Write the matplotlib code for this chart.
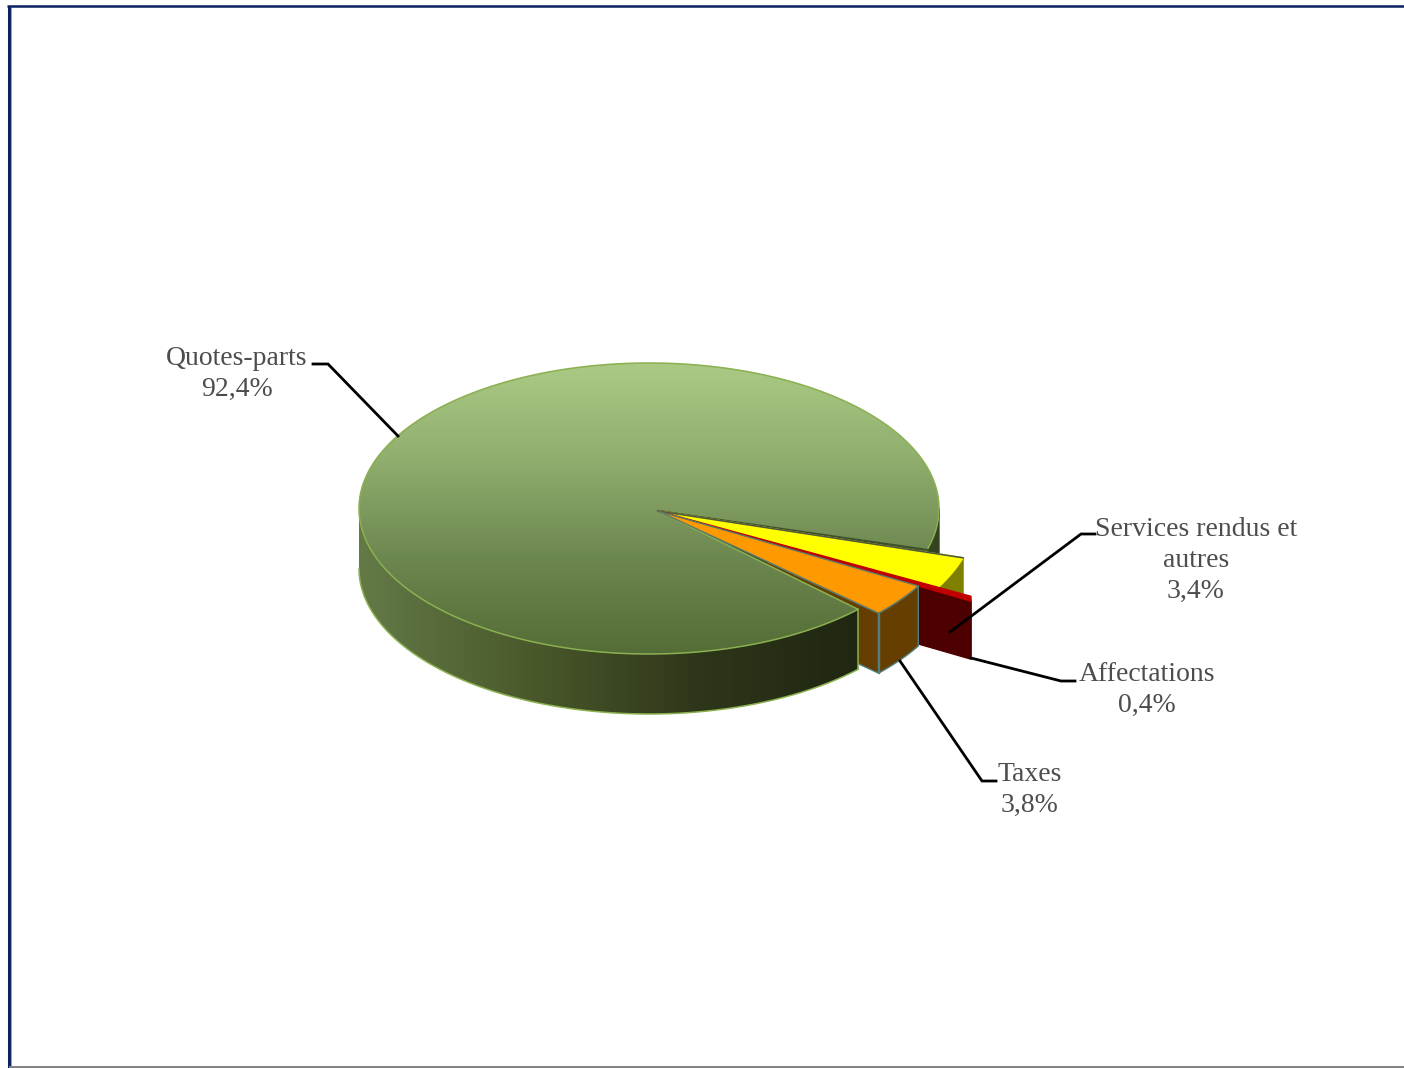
import numpy as np
import matplotlib
matplotlib.use("Agg")
import matplotlib.pyplot as plt
from matplotlib.colors import LinearSegmentedColormap
from matplotlib.patches import Polygon

labels = ["Quotes-parts", "Services rendus et\nautres", "Affectations", "Taxes"]
values = [92.4, 3.4, 0.4, 3.8]

plt.rcParams['font.family'] = ['Liberation Serif', 'DejaVu Serif']

CX, CY, RX, RY = 649, 508.5, 290, 145.5
AX0, AY0 = 658, 511
DEPTH = 60
START = 16.5
PULL = [1.0, 1.10, 1.228, 1.035]
EDGE_GREEN = '#8ab04f'
EDGE_TEAL = '#4f7f80'


def arc(t0, t1, r=1.0, cx=CX, cy=CY, dy=0, n=200):
    t = np.radians(np.linspace(t0, t1, n))
    return np.column_stack((cx + r * RX * np.cos(t), cy + dy + r * RY * np.sin(t)))


def poly(ax, pts, color, edge=None, lw=1.0, z=2):
    p = Polygon(pts, closed=True, facecolor=color, edgecolor=edge or color, linewidth=lw, zorder=z, joinstyle='round')
    ax.add_patch(p)
    return p


def gradient(ax, patch, colors, extent, vertical=True, z=2):
    cmap = LinearSegmentedColormap.from_list("g", colors)
    grad = np.linspace(0, 1, 256)
    grad = grad.reshape(-1, 1) if vertical else grad.reshape(1, -1)
    im = ax.imshow(grad, cmap=cmap, extent=extent, origin='upper', aspect='auto', zorder=z, interpolation='bilinear')
    im.set_clip_path(patch)


fig = plt.figure(figsize=(14.04, 10.68), dpi=100, facecolor='white')
ax = fig.add_axes([0, 0, 1, 1])

sweeps = [v / 100 * 360 for v in values]
green_t0 = START + sum(sweeps[1:])
green_t1 = green_t0 + sweeps[0]

# small slices fan out clockwise from the gap, a bit tighter on screen
SQUEEZE = 0.94
edges = [17.0]
for s in sweeps[1:]:
    edges.append(edges[-1] + s * SQUEEZE)
apex = np.array([[AX0, AY0]])

# orange side wall goes under the big slice
o0, o1 = edges[2], edges[3]
tip = arc(o1, o1, PULL[3], AX0, AY0, n=1)
poly(ax, np.vstack((apex, tip, tip + [0, DEPTH], apex + [0, DEPTH])), '#663f00', EDGE_TEAL, 1.0, z=2)

# big slice: side
front = arc(green_t0, 180)
wall = poly(ax, np.vstack((front, arc(180, green_t0, dy=DEPTH))), 'none', 'none', z=3)
gradient(ax, wall, ['#637a47', '#4b5a2c', '#2f371a', '#1f2612'], (359, 860, 730, 500), vertical=False, z=3)
ax.plot(*arc(green_t0, 180, dy=DEPTH).T, color=EDGE_GREEN, lw=1.1, zorder=4)
ax.plot(*np.vstack((arc(green_t0, green_t0, n=1), arc(green_t0, green_t0, dy=DEPTH, n=1))).T, color=EDGE_GREEN, lw=1.1, zorder=4)

# bit of wall and cut face seen through the gap on the right
poly(ax, np.vstack((arc(0, START, n=30), apex + [0, DEPTH], apex)), '#3a4a28', z=3)
poly(ax, np.vstack((arc(0, START, n=30), arc(START, 0, dy=DEPTH, n=30))), '#33421f', z=3)

# big slice: top
top_pts = np.vstack((apex, arc(green_t0, green_t1, n=600)))
top = poly(ax, top_pts, 'none', 'none', z=5)
gradient(ax, top, ['#abcb85', '#90ae6e', '#6d8750', '#546c35'], (355, 945, 656, 360), z=5)
ax.add_patch(Polygon(top_pts, closed=True, fill=False, edgecolor=EDGE_GREEN, linewidth=1.1, zorder=6))
ax.plot(*np.vstack((apex, arc(START, START, n=1))).T, color='#3f4f2c', lw=1.5, zorder=6)

# services: top and outer wall
y0, y1 = edges[0], edges[1]
poly(ax, np.vstack((arc(y0, y1, PULL[1], AX0, AY0, n=30), arc(y1, y0, PULL[1], AX0, AY0, dy=DEPTH, n=30))), '#808000', z=7)
poly(ax, np.vstack((apex, arc(y0, y1, PULL[1], AX0, AY0, n=30))), '#ffff00', z=8)
ax.plot(*np.vstack((apex, arc(y0, y0, PULL[1], AX0, AY0, n=1))).T, color='#4f5a3c', lw=1.2, zorder=8)

# affectations: long thin sliver, only the part past the taxes slice shows its side
r0, r1 = edges[1], edges[2]
r_top = arc(r0, r0, PULL[2], AX0, AY0, n=1)
r_tip = arc(r1, r1, PULL[2] * 1.014, AX0, AY0, n=1)
r_in = arc(r1, r1, 1.03, AX0, AY0, n=1)
poly(ax, np.vstack((r_in, r_tip, r_tip + [0, DEPTH - 2], r_in + [0, DEPTH - 2])), '#4d0000', z=9)
poly(ax, np.vstack((apex, r_top, r_tip)), '#c00000', z=10)

# taxes: outer wall and top
poly(ax, np.vstack((arc(o0, o1, PULL[3], AX0, AY0, n=30), arc(o1, o0, PULL[3], AX0, AY0, dy=DEPTH, n=30))), '#663f00', EDGE_TEAL, 1.0, z=11)
ax.plot(*np.vstack((tip, tip + [0, DEPTH])).T, color=EDGE_TEAL, lw=1.0, zorder=12)
poly(ax, np.vstack((apex, arc(o0, o1, PULL[3], AX0, AY0, n=30))), '#ff9900', '#5c7a6a', 1.0, z=12)

# leader lines
leaders = [
    ([313, 328, 398], [364, 364, 436]),
    ([1095, 1081, 950], [534, 534, 632]),
    ([1075, 1061, 971], [681, 681, 658]),
    ([996, 982, 900], [781, 781, 661]),
]
for xs, ys in leaders:
    ax.plot(xs, ys, color='black', lw=2.0, zorder=13, solid_joinstyle='miter')

# labels
label_pos = [(237, 374), (1196, 560.5), (1147, 690), (1030, 790)]
for name, v, (x, y) in zip(labels, values, label_pos):
    txt = name + "\n" + f"{v:.1f}".replace(".", ",") + "%"
    ax.text(x, y, txt, ha='center', va='center', fontsize=20, color='#4d4d4d', linespacing=1.3, zorder=14)

# window frame
ax.plot([8.5, 8.5], [1068, 6], color='#0a2060', lw=2.2, zorder=15, solid_capstyle='butt')
ax.plot([7, 1404], [6, 6], color='#0a2060', lw=1.8, zorder=15, solid_capstyle='butt')
ax.plot([10.5, 10.5], [1068, 8], color='#a0a0a0', lw=0.8, zorder=15)
ax.plot([10, 1404], [1067.2, 1067.2], color='#808080', lw=1.4, zorder=15)

ax.set_xlim(0, 1404)
ax.set_ylim(1068, 0)
ax.axis('off')
fig.savefig("out.png", dpi=100, facecolor='white')
